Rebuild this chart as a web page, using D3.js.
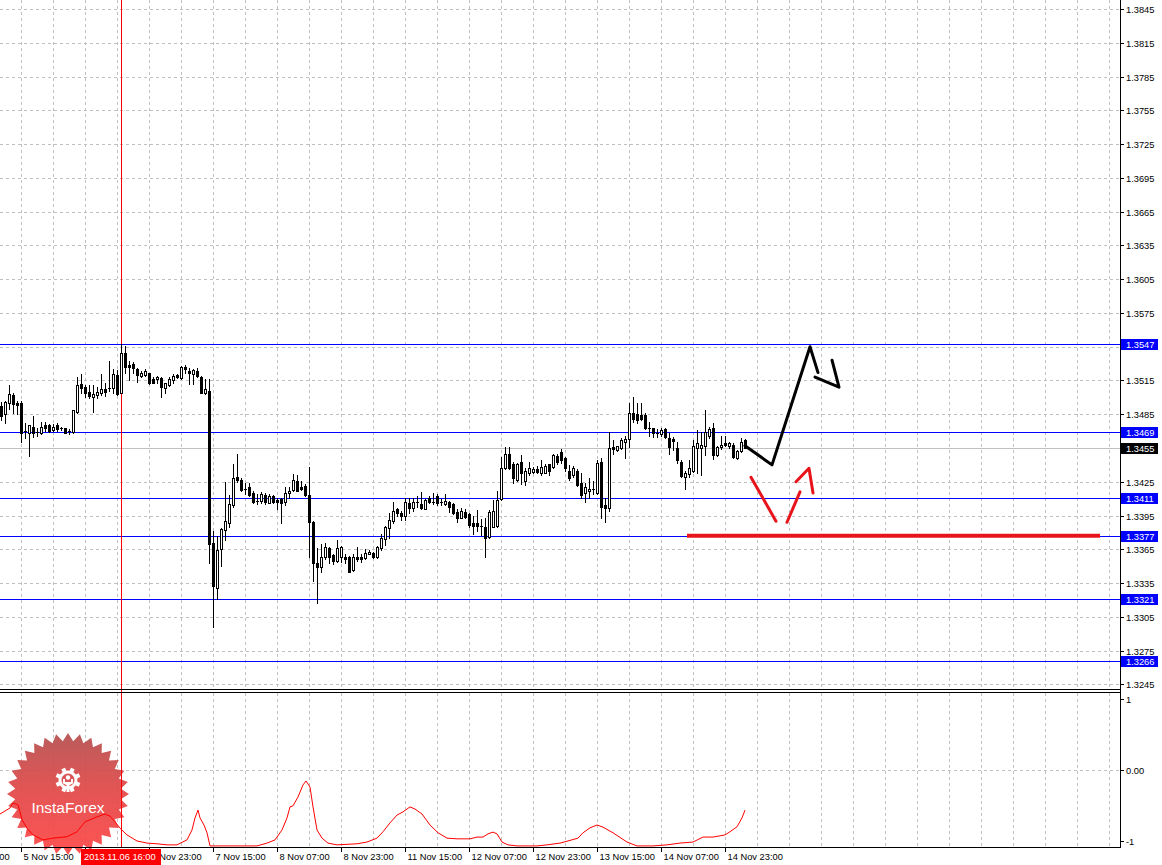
<!DOCTYPE html>
<html><head><meta charset="utf-8">
<script src="https://cdn.jsdelivr.net/npm/d3@7"></script>
<style>html,body{margin:0;padding:0;background:#fff;overflow:hidden}svg{display:block}</style>
</head><body>
<svg id="c" width="1162" height="865"></svg>
<script>
// ---------------- DATA ----------------
const open = [
1.3492,1.3485,1.3495,1.3502,1.3495,1.3495,1.3470,1.3468,1.3474,1.3469,
1.3468,1.3475,1.3475,1.3471,1.3475,1.3473,1.3473,1.3470,1.3469,1.3487,
1.3512,1.3509,1.3505,1.3500,1.3502,1.3504,1.3507,1.3508,1.3508,1.3520,
1.3504,1.3539,1.3529,1.3530,1.3525,1.3519,1.3520,1.3522,1.3516,1.3516,
1.3517,1.3508,1.3511,1.3515,1.3520,1.3517,1.3527,1.3523,1.3521,1.3523,
1.3518,1.3504,1.3506,1.3371,1.3331,1.3365,1.3382,1.3388,1.3404,1.3429,
1.3427,1.3419,1.3420,1.3415,1.3408,1.3408,1.3413,1.3406,1.3412,1.3409,
1.3410,1.3407,1.3415,1.3418,1.3426,1.3420,1.3421,1.3413,1.3389,1.3353,
1.3349,1.3358,1.3366,1.3360,1.3355,1.3358,1.3358,1.3358,1.3347,1.3358,
1.3358,1.3357,1.3361,1.3362,1.3358,1.3366,1.3374,1.3384,1.3390,1.3401,
1.3397,1.3395,1.3406,1.3402,1.3407,1.3405,1.3401,1.3411,1.3407,1.3412,
1.3407,1.3405,1.3407,1.3405,1.3398,1.3393,1.3398,1.3396,1.3388,1.3388,
1.3386,1.3385,1.3376,1.3385,1.3386,1.3410,1.3437,1.3450,1.3441,1.3427,
1.3443,1.3426,1.3433,1.3434,1.3436,1.3433,1.3433,1.3441,1.3438,1.3448,
1.3451,1.3446,1.3435,1.3431,1.3435,1.3424,1.3415,1.3417,1.3418,1.3415,
1.3443,1.3404,1.3402,1.3456,1.3453,1.3455,1.3460,1.3463,1.3486,1.3485,
1.3484,1.3484,1.3473,1.3473,1.3468,1.3467,1.3472,1.3464,1.3463,1.3455,
1.3443,1.3429,1.3432,1.3435,1.3455,1.3455,1.3457,1.3466,1.3473,1.3449,
1.3456,1.3459,1.3457,1.3458,1.3446,1.3452,1.3462];
const high = [
1.3496,1.3497,1.3511,1.3504,1.3497,1.3497,1.3477,1.3475,1.3483,1.3473,
1.3478,1.3478,1.3476,1.3476,1.3477,1.3474,1.3473,1.3472,1.3489,1.3518,
1.3521,1.3511,1.3511,1.3511,1.3509,1.3521,1.3513,1.3532,1.3525,1.3524,
1.3547,1.3546,1.3532,1.3531,1.3526,1.3523,1.3525,1.3522,1.3518,1.3519,
1.3518,1.3513,1.3518,1.3521,1.3521,1.3528,1.3529,1.3526,1.3525,1.3526,
1.3519,1.3516,1.3516,1.3381,1.3377,1.3384,1.3425,1.3413,1.3441,1.3450,
1.3428,1.3424,1.3424,1.3417,1.3414,1.3416,1.3415,1.3414,1.3413,1.3411,
1.3411,1.3420,1.3420,1.3432,1.3431,1.3426,1.3423,1.3438,1.3390,1.3366,
1.3370,1.3371,1.3367,1.3361,1.3373,1.3368,1.3361,1.3359,1.3361,1.3367,
1.3361,1.3365,1.3364,1.3363,1.3368,1.3379,1.3386,1.3397,1.3407,1.3402,
1.3399,1.3411,1.3411,1.3411,1.3412,1.3416,1.3410,1.3412,1.3415,1.3414,
1.3410,1.3414,1.3408,1.3406,1.3401,1.3402,1.3401,1.3397,1.3395,1.3400,
1.3392,1.3393,1.3400,1.3409,1.3417,1.3447,1.3456,1.3456,1.3443,1.3442,
1.3449,1.3437,1.3443,1.3438,1.3439,1.3444,1.3441,1.3441,1.3450,1.3450,
1.3454,1.3447,1.3440,1.3439,1.3436,1.3433,1.3424,1.3428,1.3426,1.3444,
1.3446,1.3411,1.3469,1.3462,1.3457,1.3464,1.3466,1.3495,1.3500,1.3495,
1.3495,1.3486,1.3478,1.3473,1.3472,1.3473,1.3473,1.3468,1.3465,1.3460,
1.3444,1.3435,1.3444,1.3462,1.3471,1.3469,1.3489,1.3474,1.3477,1.3457,
1.3466,1.3466,1.3460,1.3459,1.3453,1.3464,1.3463];
const low = [
1.3480,1.3477,1.3490,1.3486,1.3485,1.3460,1.3464,1.3448,1.3465,1.3466,
1.3467,1.3470,1.3469,1.3470,1.3470,1.3471,1.3468,1.3467,1.3468,1.3486,
1.3504,1.3500,1.3499,1.3487,1.3499,1.3502,1.3501,1.3506,1.3504,1.3502,
1.3504,1.3522,1.3515,1.3522,1.3514,1.3518,1.3519,1.3512,1.3513,1.3513,
1.3500,1.3504,1.3510,1.3513,1.3517,1.3516,1.3522,1.3512,1.3512,1.3518,
1.3504,1.3503,1.3353,1.3296,1.3321,1.3350,1.3373,1.3385,1.3403,1.3425,
1.3417,1.3414,1.3412,1.3406,1.3405,1.3406,1.3405,1.3406,1.3406,1.3401,
1.3388,1.3404,1.3411,1.3417,1.3417,1.3418,1.3412,1.3358,1.3337,1.3317,
1.3345,1.3356,1.3353,1.3352,1.3354,1.3354,1.3353,1.3345,1.3346,1.3355,
1.3354,1.3356,1.3361,1.3357,1.3357,1.3364,1.3369,1.3375,1.3388,1.3395,
1.3391,1.3391,1.3397,1.3399,1.3403,1.3401,1.3401,1.3406,1.3405,1.3404,
1.3404,1.3404,1.3398,1.3396,1.3389,1.3393,1.3393,1.3385,1.3379,1.3381,
1.3378,1.3358,1.3375,1.3385,1.3385,1.3409,1.3436,1.3436,1.3424,1.3426,
1.3423,1.3422,1.3431,1.3433,1.3433,1.3431,1.3433,1.3431,1.3437,1.3441,
1.3442,1.3435,1.3427,1.3429,1.3421,1.3411,1.3407,1.3411,1.3414,1.3414,
1.3393,1.3389,1.3399,1.3450,1.3452,1.3454,1.3446,1.3456,1.3478,1.3477,
1.3480,1.3472,1.3466,1.3465,1.3465,1.3466,1.3464,1.3450,1.3453,1.3442,
1.3429,1.3419,1.3429,1.3434,1.3433,1.3431,1.3449,1.3464,1.3445,1.3448,
1.3454,1.3457,1.3455,1.3446,1.3445,1.3451,1.3455];
const close = [
1.3483,1.3496,1.3503,1.3494,1.3493,1.3468,1.3469,1.3475,1.3468,1.3468,
1.3474,1.3473,1.3470,1.3474,1.3472,1.3472,1.3468,1.3469,1.3489,1.3511,
1.3508,1.3504,1.3501,1.3503,1.3505,1.3507,1.3505,1.3507,1.3521,1.3503,
1.3539,1.3527,1.3527,1.3526,1.3520,1.3522,1.3523,1.3513,1.3513,1.3518,
1.3509,1.3513,1.3516,1.3519,1.3518,1.3527,1.3525,1.3522,1.3524,1.3519,
1.3504,1.3507,1.3370,1.3332,1.3364,1.3383,1.3390,1.3405,1.3428,1.3427,
1.3418,1.3418,1.3413,1.3407,1.3407,1.3414,1.3407,1.3412,1.3407,1.3407,
1.3406,1.3415,1.3417,1.3427,1.3417,1.3419,1.3413,1.3389,1.3353,1.3349,
1.3358,1.3367,1.3358,1.3355,1.3366,1.3367,1.3356,1.3345,1.3358,1.3356,
1.3356,1.3362,1.3363,1.3358,1.3367,1.3375,1.3385,1.3391,1.3399,1.3397,
1.3395,1.3407,1.3402,1.3407,1.3406,1.3402,1.3409,1.3407,1.3406,1.3406,
1.3406,1.3408,1.3403,1.3397,1.3393,1.3399,1.3394,1.3387,1.3386,1.3386,
1.3385,1.3375,1.3398,1.3399,1.3409,1.3437,1.3450,1.3437,1.3428,1.3441,
1.3433,1.3435,1.3437,1.3436,1.3434,1.3438,1.3439,1.3435,1.3449,1.3443,
1.3444,1.3437,1.3428,1.3437,1.3422,1.3413,1.3420,1.3419,1.3419,1.3442,
1.3403,1.3402,1.3455,1.3454,1.3457,1.3462,1.3463,1.3486,1.3481,1.3480,
1.3481,1.3473,1.3473,1.3468,1.3467,1.3471,1.3465,1.3456,1.3461,1.3444,
1.3430,1.3433,1.3437,1.3457,1.3459,1.3458,1.3469,1.3472,1.3449,1.3456,
1.3458,1.3458,1.3459,1.3447,1.3452,1.3460,1.3455];

const priceTicks = [1.3845,1.3815,1.3785,1.3755,1.3725,1.3695,1.3665,1.3635,1.3605,1.3575,1.3545,1.3515,1.3485,1.3455,1.3425,1.3395,1.3365,1.3335,1.3305,1.3275,1.3245];
const levels = [1.3547,1.3469,1.3411,1.3377,1.3321,1.3266];
const lastPrice = 1.3455;
const timeLabelBars = [-11,5,21,37,53,69,85,101,117,133,149,165,181];
const timeLabels = ["4 Nov 23:00","5 Nov 15:00","6 Nov 07:00","6 Nov 23:00","7 Nov 15:00","8 Nov 07:00","8 Nov 23:00","11 Nov 15:00","12 Nov 07:00","12 Nov 23:00","13 Nov 15:00","14 Nov 07:00","14 Nov 23:00"];
const cursorBar = 30;
const cursorLabel = "2013.11.06 16:00";

const indBars = [-0.25,2.25,3,4.25,5.25,6.5,8,10.5,13,16.5,19,21,24,26,27.25,28.5,29.75,31.5,34,36.5,39,41.5,44,46.5,47.75,48.5,49.25,49.75,50.75,51.5,52.25,64,66.5,68.5,70.25,71.5,72.25,73,74.25,75.5,76.25,77.25,78,79,80.25,81.75,84,89,91.5,94,95.5,97.25,99,100.5,102.25,103.5,105.25,107.25,109.25,111.5,114,117.25,119,120.5,121.75,123,124,125.25,126.75,129,134,136.5,139.75,141.75,144.25,145.5,147.25,149,150.5,153,156.5,159,163,166.5,169.75,173,175.5,178,181,182.25,184,185.25,186];
const indValues = [-0.62,-0.535,-0.465,-0.49,-0.70,-0.82,-0.915,-0.985,-0.96,-0.94,-0.87,-0.73,-0.66,-0.62,-0.65,-0.73,-0.82,-0.915,-1.0,-1.03,-1.04,-1.055,-1.055,-0.985,-0.845,-0.675,-0.565,-0.675,-0.775,-0.885,-1.07,-1.07,-1.03,-0.985,-0.845,-0.675,-0.52,-0.505,-0.38,-0.21,-0.155,-0.24,-0.52,-0.845,-0.96,-1.03,-1.055,-1.04,-1.015,-0.96,-0.87,-0.745,-0.635,-0.59,-0.52,-0.55,-0.62,-0.775,-0.885,-0.96,-0.97,-0.97,-0.945,-0.945,-0.9,-0.875,-0.9,-1.015,-1.055,-1.07,-1.07,-1.055,-1.03,-1.0,-0.96,-0.885,-0.815,-0.775,-0.805,-0.885,-1.015,-1.07,-1.07,-1.055,-1.03,-1.015,-0.945,-0.945,-0.915,-0.87,-0.8,-0.675,-0.565];
const indTicks = [1,0,-1];
const indTickLabels = ["1","0.00","-1"];

// hand-drawn forecast annotations (bar index, price)
const blackPathBars = [186,192.75,202.25,204.25];
const blackPathPrices = [1.3457,1.3440,1.3545,1.3522];
const blackHeadBars = [203.5,209.5,207.75];
const blackHeadPrices = [1.3518,1.3509,1.3533];
const redPath1Bars = [187.5,193.75];
const redPath1Prices = [1.3429,1.3390];
const redPath2Bars = [196.5,199.75];
const redPath2Prices = [1.3389,1.3416];
const redHeadBars = [198.75,202,203];
const redHeadPrices = [1.3425,1.3437,1.3415];
const supportBars = [171.5,274.75];
const supportPrice = 1.3377;

// ---------------- LAYOUT ----------------
const W = 1162, H = 865;
const plotRight = 1120;
const mainBottom = 690, indTop = 693, indBottom = 847;
const FONT = "'Liberation Sans', Arial, sans-serif";
const FS = "9.3px";

const svg = d3.select("#c");
const x = d3.scaleLinear().domain([0, 279.75]).range([1, plotRight]);
const y = d3.scaleLinear().domain([1.3240, 1.3853]).range([mainBottom, 0]);
const yi = d3.scaleLinear().domain([-1.085, 1.085]).range([indBottom, indTop]);
const cr = v => Math.round(v) + 0.5;

svg.append("rect").attr("width", W).attr("height", H).attr("fill", "#fff");

const defs = svg.append("defs");
defs.append("clipPath").attr("id","clipMain").append("rect").attr("x",0).attr("y",0).attr("width",plotRight).attr("height",mainBottom);
defs.append("clipPath").attr("id","clipInd").append("rect").attr("x",0).attr("y",indTop).attr("width",plotRight).attr("height",indBottom-indTop);
const grad = defs.append("linearGradient").attr("id","badgeGrad").attr("x1",0).attr("y1",0).attr("x2",0).attr("y2",1);
grad.append("stop").attr("offset","0%").attr("stop-color","#b54f4f");
grad.append("stop").attr("offset","45%").attr("stop-color","#e04848");
grad.append("stop").attr("offset","100%").attr("stop-color","#ff4646");

// ---------------- GRID ----------------
const gridBars = d3.range(5, 280, 8);
const grid = svg.append("g").attr("stroke","#c0c0c0").attr("stroke-dasharray","3,3").attr("shape-rendering","crispEdges");
gridBars.forEach(b => {
  grid.append("line").attr("x1",cr(x(b))).attr("x2",cr(x(b))).attr("y1",0).attr("y2",mainBottom);
  grid.append("line").attr("x1",cr(x(b))).attr("x2",cr(x(b))).attr("y1",indTop).attr("y2",indBottom);
});
priceTicks.forEach(p => {
  grid.append("line").attr("x1",0).attr("x2",plotRight).attr("y1",cr(y(p))).attr("y2",cr(y(p)));
});
grid.append("line").attr("x1",0).attr("x2",plotRight).attr("y1",cr(yi(0))).attr("y2",cr(yi(0)));

// ---------------- BADGE (watermark) ----------------
const bcx = 68, bcy = 794, rOut = 61, rIn = 53, nSp = 32;
const starPts = d3.range(nSp*2).map(k => {
  const a = k * Math.PI / nSp - Math.PI/2;
  const r = k % 2 === 0 ? rOut : rIn;
  return [bcx + r*Math.cos(a), bcy + r*Math.sin(a)];
});
const badge = svg.append("g");
badge.append("path").attr("d", "M" + starPts.map(p=>p.join(",")).join("L") + "Z")
  .attr("fill","url(#badgeGrad)").attr("opacity",0.93);
const gx = 68, gy = 780;
const gear = badge.append("g").attr("fill","#fff");
d3.range(8).forEach(k => {
  const ang = k*45 + 22.5;
  gear.append("rect").attr("x",gx-2).attr("y",gy-12.5).attr("width",4).attr("height",5)
    .attr("transform",`rotate(${ang},${gx},${gy})`);
});
gear.append("path").attr("d", d3.arc().innerRadius(6.5).outerRadius(9.5).startAngle(Math.PI*0.82).endAngle(Math.PI*3.18)()).attr("transform",`translate(${gx},${gy})`);
gear.append("circle").attr("cx",gx).attr("cy",gy-2.5).attr("r",2.2);
gear.append("path").attr("d",`M${gx-5},${gy-1} L${gx-3},${gy-1} L${gx-3},${gy+2} L${gx+3},${gy+2} L${gx+3},${gy-1} L${gx+5},${gy-1} L${gx+5},${gy+3.5} L${gx+1.5},${gy+5} L${gx+1.5},${gy+12} L${gx-1.5},${gy+12} L${gx-1.5},${gy+5} L${gx-5},${gy+3.5} Z`);
badge.append("text").attr("x",bcx).attr("y",813).attr("text-anchor","middle")
  .attr("font-family",FONT).attr("font-size","15.5px").attr("fill","#fff").text("InstaForex");

// ---------------- LEVEL LINES ----------------
const lines = svg.append("g").attr("shape-rendering","crispEdges");
lines.append("line").attr("x1",0).attr("x2",plotRight).attr("y1",cr(y(lastPrice))).attr("y2",cr(y(lastPrice))).attr("stroke","#c0c0c0");
levels.forEach(l => {
  lines.append("line").attr("x1",0).attr("x2",plotRight).attr("y1",cr(y(l))).attr("y2",cr(y(l))).attr("stroke","#0000ff");
});
lines.append("line").attr("x1",cr(x(cursorBar))).attr("x2",cr(x(cursorBar))).attr("y1",0).attr("y2",indBottom).attr("stroke","#ff0000");

// ---------------- CANDLES ----------------
const cg = svg.append("g").attr("clip-path","url(#clipMain)").attr("shape-rendering","crispEdges");
open.forEach((o,i) => {
  const c = close[i], h = high[i], l = low[i];
  const cx = Math.round(x(i));
  cg.append("line").attr("x1",cx+0.5).attr("x2",cx+0.5)
    .attr("y1",Math.round(y(h))).attr("y2",Math.round(y(l))+1).attr("stroke","#000");
  let yt = Math.round(y(Math.max(o,c))), yb = Math.round(y(Math.min(o,c)));
  if (yb - yt < 1) yb = yt + 1;
  const up = c >= o;
  if (yb - yt <= 1) {
    cg.append("line").attr("x1",cx-1).attr("x2",cx+2).attr("y1",yt+0.5).attr("y2",yt+0.5).attr("stroke","#000");
  } else {
    cg.append("rect").attr("x",cx-0.5).attr("y",yt+0.5).attr("width",2).attr("height",yb-yt)
      .attr("fill", up ? "#fff" : "#000").attr("stroke","#000");
  }
});

// ---------------- INDICATOR ----------------
const indLine = d3.line().x((d,k)=>x(indBars[k])).y(d=>yi(d));
svg.append("path").attr("clip-path","url(#clipInd)").attr("d", indLine(indValues))
  .attr("fill","none").attr("stroke","#ff0000").attr("stroke-width",1);

// ---------------- ANNOTATIONS ----------------
const ann = svg.append("g").attr("fill","none").attr("stroke-linecap","round").attr("stroke-linejoin","round");
const poly = (bars, prices) => d3.line()(bars.map((b,k)=>[x(b), y(prices[k])]));
ann.append("path").attr("d", poly(supportBars, [supportPrice,supportPrice])).attr("stroke","#e8141c").attr("stroke-width",4).attr("stroke-linecap","butt");
ann.append("path").attr("d", poly(blackPathBars, blackPathPrices)).attr("stroke","#000").attr("stroke-width",3);
ann.append("path").attr("d", poly(blackHeadBars, blackHeadPrices)).attr("stroke","#000").attr("stroke-width",3);
ann.append("path").attr("d", poly(redPath1Bars, redPath1Prices)).attr("stroke","#e8141c").attr("stroke-width",3);
ann.append("path").attr("d", poly(redPath2Bars, redPath2Prices)).attr("stroke","#e8141c").attr("stroke-width",3);
ann.append("path").attr("d", poly(redHeadBars, redHeadPrices)).attr("stroke","#e8141c").attr("stroke-width",3);

// ---------------- FRAMES ----------------
const fr = svg.append("g").attr("stroke","#000").attr("shape-rendering","crispEdges");
fr.append("line").attr("x1",plotRight+0.5).attr("x2",plotRight+0.5).attr("y1",0).attr("y2",indBottom+1);
fr.append("line").attr("x1",0).attr("x2",plotRight).attr("y1",mainBottom-0.5).attr("y2",mainBottom-0.5);
fr.append("line").attr("x1",0).attr("x2",plotRight).attr("y1",indTop-0.5).attr("y2",indTop-0.5);
fr.append("line").attr("x1",0).attr("x2",plotRight+1).attr("y1",indBottom+0.5).attr("y2",indBottom+0.5);

// ---------------- RIGHT AXIS ----------------
const boxes = [...levels.map(l=>({p:l,c:"#0000ff"})), {p:lastPrice,c:"#000"}];
const boxY = boxes.map(b => Math.round(y(b.p)));
const ax = svg.append("g").attr("font-family",FONT).attr("font-size",FS);
priceTicks.forEach(p => {
  const yy = cr(y(p));
  ax.append("line").attr("x1",plotRight).attr("x2",plotRight+4).attr("y1",yy).attr("y2",yy).attr("stroke","#000").attr("shape-rendering","crispEdges");
  // labels fully covered by a level box are not visible in the original
  if (boxY.some(by => Math.abs(by - yy) < 6)) return;
  ax.append("text").attr("x",plotRight+6).attr("y",yy).attr("dy","0.35em").attr("fill","#000").text(p.toFixed(4));
});
indTicks.forEach((v,k) => {
  const yy = cr(yi(v));
  ax.append("line").attr("x1",plotRight).attr("x2",plotRight+4).attr("y1",yy).attr("y2",yy).attr("stroke","#000").attr("shape-rendering","crispEdges");
  ax.append("text").attr("x",plotRight+6).attr("y",yy).attr("dy","0.35em").attr("fill","#000").text(indTickLabels[k]);
});
boxes.forEach((b,k) => {
  const yy = boxY[k];
  ax.append("rect").attr("x",plotRight+1).attr("y",yy-5.5).attr("width",37).attr("height",11).attr("fill",b.c).attr("shape-rendering","crispEdges");
  ax.append("text").attr("x",plotRight+6).attr("y",yy+0.5).attr("dy","0.35em").attr("fill","#fff").text(b.p.toFixed(4));
});

// ---------------- BOTTOM AXIS ----------------
const bx = svg.append("g").attr("font-family",FONT).attr("font-size",FS);
const cxl = Math.round(x(cursorBar));
timeLabelBars.forEach((b,k) => {
  const xx = cr(x(b));
  bx.append("line").attr("x1",xx).attr("x2",xx).attr("y1",indBottom).attr("y2",indBottom+5).attr("stroke","#000").attr("shape-rendering","crispEdges");
  // label entirely hidden under the cursor time box in the original
  if (xx > cxl - 40 && xx + 60 < cxl + 42) return;
  bx.append("text").attr("x",xx+2).attr("y",860).attr("fill","#000").text(timeLabels[k]);
});
bx.append("rect").attr("x",cxl-40).attr("y",849).attr("width",80).attr("height",16).attr("fill","#ff0000");
bx.append("text").attr("x",cxl-37).attr("y",860).attr("fill","#fff").text(cursorLabel);
</script>
</body></html>
